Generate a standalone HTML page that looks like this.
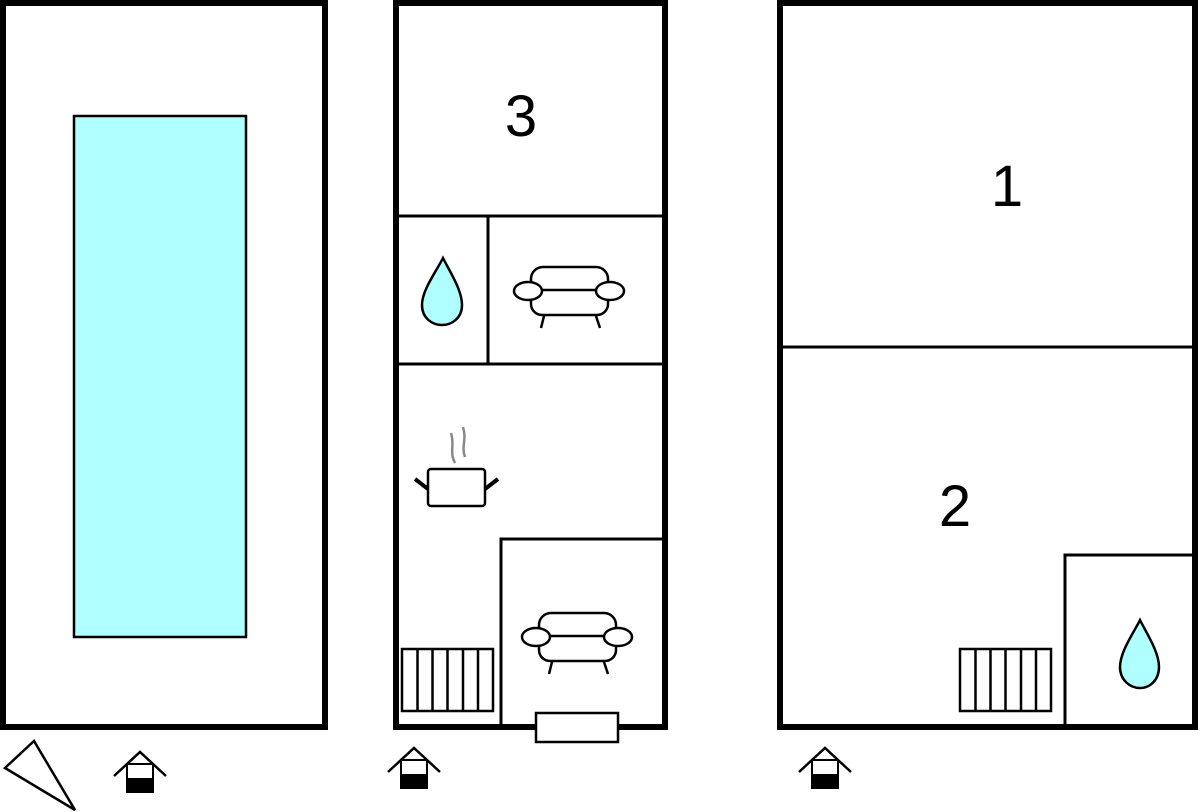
<!DOCTYPE html>
<html><head><meta charset="utf-8"><style>html,body{margin:0;padding:0;background:#fff}svg{display:block}</style></head>
<body>
<svg width="1200" height="812" viewBox="0 0 1200 812" xmlns="http://www.w3.org/2000/svg" font-family="Liberation Sans, sans-serif">
<defs>
<g id="sofa" fill="#fff" stroke="#000" stroke-width="2.5">
  <rect x="539" y="613" width="77" height="32" rx="12"/>
  <rect x="539" y="636" width="77" height="25" rx="11"/>
  <ellipse cx="536" cy="637" rx="14" ry="9"/>
  <ellipse cx="618" cy="637" rx="14" ry="9"/>
  <line x1="552" y1="662" x2="549" y2="674"/>
  <line x1="604" y1="662" x2="608" y2="674"/>
</g>
<g id="rad" fill="#fff" stroke="#000" stroke-width="2.5">
  <rect x="0" y="0" width="91" height="62"/>
  <line x1="15.5" y1="0" x2="15.5" y2="62"/><line x1="30.5" y1="0" x2="30.5" y2="62"/>
  <line x1="45.5" y1="0" x2="45.5" y2="62"/><line x1="61" y1="0" x2="61" y2="62"/>
  <line x1="76" y1="0" x2="76" y2="62"/>
</g>
<g id="house">
  <polyline points="-26,12 0,-12 26,12" fill="none" stroke="#000" stroke-width="2.5"/>
  <rect x="-13" y="0" width="26" height="28" fill="#fff" stroke="#000" stroke-width="2"/>
  <rect x="-13" y="14" width="26" height="14" fill="#000"/>
</g>
</defs>
<!-- left panel -->
<rect x="3" y="3" width="322" height="724" fill="#fff" stroke="#000" stroke-width="6"/>
<rect x="74" y="116" width="172" height="521" fill="#b0ffff" stroke="#000" stroke-width="2.5"/>
<!-- middle panel -->
<rect x="396" y="3" width="269" height="724" fill="#fff" stroke="#000" stroke-width="6"/>
<line x1="396" y1="216" x2="665" y2="216" stroke="#000" stroke-width="3"/>
<line x1="396" y1="364" x2="665" y2="364" stroke="#000" stroke-width="3"/>
<line x1="488" y1="216" x2="488" y2="364" stroke="#000" stroke-width="3"/>
<polyline points="501,727 501,539 665,539" fill="none" stroke="#000" stroke-width="3"/>
<rect x="536" y="713" width="82" height="29" fill="#fff" stroke="#000" stroke-width="2.5"/>
<text x="521" y="136" font-size="58" text-anchor="middle">3</text>
<path d="M443,258 C436,272 422,290 422,305 C422,318 432,325 442,325 C452,325 462,318 462,305 C462,290 450,272 443,258 Z" fill="#b0ffff" stroke="#000" stroke-width="2.5"/>
<use href="#sofa" transform="translate(-8,-346)"/>
<use href="#sofa"/>
<use href="#rad" transform="translate(402,649)"/>
<!-- pot -->
<path d="M455,463 C449,452 455,445 451,433 M465,457 C461,446 467,440 463,427" fill="none" stroke="#888" stroke-width="2.5"/>
<rect x="428" y="469" width="57" height="37" rx="3" fill="#fff" stroke="#000" stroke-width="2.5"/>
<line x1="415" y1="479" x2="428" y2="489" stroke="#000" stroke-width="4"/>
<line x1="485" y1="489" x2="498" y2="479" stroke="#000" stroke-width="4"/>
<!-- right panel -->
<rect x="780" y="3" width="415" height="724" fill="#fff" stroke="#000" stroke-width="6"/>
<line x1="780" y1="347" x2="1195" y2="347" stroke="#000" stroke-width="3"/>
<polyline points="1065,727 1065,555 1195,555" fill="none" stroke="#000" stroke-width="3"/>
<text x="1007" y="206" font-size="58" text-anchor="middle">1</text>
<text x="955" y="526" font-size="58" text-anchor="middle">2</text>
<use href="#rad" transform="translate(960,649)"/>
<path d="M1140,620 C1133,634 1120,652 1120,667 C1120,680 1130,688 1140,688 C1150,688 1159,680 1159,667 C1159,652 1147,634 1140,620 Z" fill="#b0ffff" stroke="#000" stroke-width="2.5"/>
<!-- bottom icons -->
<polygon points="5,768 34,741 75,810" fill="#fff" stroke="#000" stroke-width="2.5"/>
<use href="#house" transform="translate(140,764)"/>
<use href="#house" transform="translate(414,760)"/>
<use href="#house" transform="translate(825,760)"/>
</svg>
</body></html>
